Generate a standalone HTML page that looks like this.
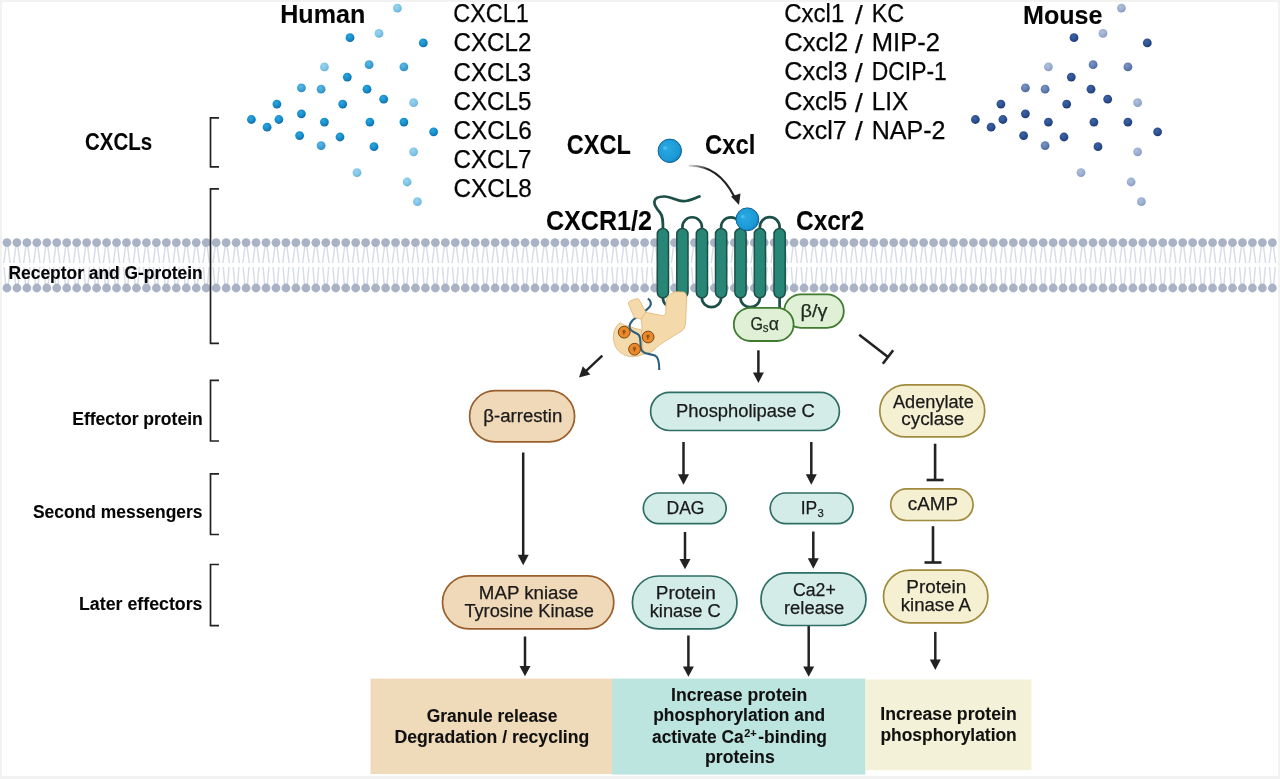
<!DOCTYPE html>
<html><head><meta charset="utf-8"><style>
html,body{margin:0;padding:0;background:#f2f2f2;overflow:hidden;}
svg{display:block;will-change:transform;}
text{font-family:"Liberation Sans", sans-serif;}
</style></head><body>
<svg width="1280" height="779" viewBox="0 0 1280 779">
<defs>
<radialGradient id="hD" cx="0.4" cy="0.35" r="0.65"><stop offset="0" stop-color="#27a8de"/><stop offset="0.7" stop-color="#1687c6"/><stop offset="1" stop-color="#0f6aa5"/></radialGradient>
<radialGradient id="hM" cx="0.4" cy="0.35" r="0.65"><stop offset="0" stop-color="#5ab8e3"/><stop offset="0.7" stop-color="#3c9fd3"/><stop offset="1" stop-color="#2f88bd"/></radialGradient>
<radialGradient id="hL" cx="0.4" cy="0.35" r="0.65"><stop offset="0" stop-color="#9ad3ef"/><stop offset="0.7" stop-color="#7dc3e6"/><stop offset="1" stop-color="#6ab0d6"/></radialGradient>
<radialGradient id="mD" cx="0.4" cy="0.35" r="0.65"><stop offset="0" stop-color="#3e63a5"/><stop offset="0.7" stop-color="#2a4c8c"/><stop offset="1" stop-color="#1e3a72"/></radialGradient>
<radialGradient id="mM" cx="0.4" cy="0.35" r="0.65"><stop offset="0" stop-color="#7a95c4"/><stop offset="0.7" stop-color="#5d79ad"/><stop offset="1" stop-color="#4c6698"/></radialGradient>
<radialGradient id="mL" cx="0.4" cy="0.35" r="0.65"><stop offset="0" stop-color="#b0c0dc"/><stop offset="0.7" stop-color="#98abcf"/><stop offset="1" stop-color="#889cc0"/></radialGradient>
<radialGradient id="lig" cx="0.4" cy="0.4" r="0.65"><stop offset="0" stop-color="#2aa8e2"/><stop offset="0.75" stop-color="#1a9ad6"/><stop offset="1" stop-color="#1380bd"/></radialGradient>
</defs>
<rect x="2" y="2" width="1276" height="774" fill="#fff"/>
<path d="M5.84,247L3.74,263M8.04,247L10.14,263M4.04,267L5.54,284M9.84,267L8.34,284M15.80,247L13.70,263M18.00,247L20.10,263M14.00,267L15.50,284M19.80,267L18.30,284M25.77,247L23.67,263M27.97,247L30.07,263M23.97,267L25.47,284M29.77,267L28.27,284M35.73,247L33.63,263M37.93,247L40.03,263M33.93,267L35.43,284M39.73,267L38.23,284M45.70,247L43.60,263M47.90,247L50.00,263M43.90,267L45.40,284M49.70,267L48.20,284M55.66,247L53.56,263M57.86,247L59.96,263M53.86,267L55.36,284M59.66,267L58.16,284M65.62,247L63.52,263M67.82,247L69.92,263M63.82,267L65.32,284M69.62,267L68.12,284M75.59,247L73.49,263M77.79,247L79.89,263M73.79,267L75.29,284M79.59,267L78.09,284M85.55,247L83.45,263M87.75,247L89.85,263M83.75,267L85.25,284M89.55,267L88.05,284M95.52,247L93.42,263M97.72,247L99.82,263M93.72,267L95.22,284M99.52,267L98.02,284M105.48,247L103.38,263M107.68,247L109.78,263M103.68,267L105.18,284M109.48,267L107.98,284M115.44,247L113.34,263M117.64,247L119.74,263M113.64,267L115.14,284M119.44,267L117.94,284M125.41,247L123.31,263M127.61,247L129.71,263M123.61,267L125.11,284M129.41,267L127.91,284M135.37,247L133.27,263M137.57,247L139.67,263M133.57,267L135.07,284M139.37,267L137.87,284M145.34,247L143.24,263M147.54,247L149.64,263M143.54,267L145.04,284M149.34,267L147.84,284M155.30,247L153.20,263M157.50,247L159.60,263M153.50,267L155.00,284M159.30,267L157.80,284M165.26,247L163.16,263M167.46,247L169.56,263M163.46,267L164.96,284M169.26,267L167.76,284M175.23,247L173.13,263M177.43,247L179.53,263M173.43,267L174.93,284M179.23,267L177.73,284M185.19,247L183.09,263M187.39,247L189.49,263M183.39,267L184.89,284M189.19,267L187.69,284M195.16,247L193.06,263M197.36,247L199.46,263M193.36,267L194.86,284M199.16,267L197.66,284M205.12,247L203.02,263M207.32,247L209.42,263M203.32,267L204.82,284M209.12,267L207.62,284M215.08,247L212.98,263M217.28,247L219.38,263M213.28,267L214.78,284M219.08,267L217.58,284M225.05,247L222.95,263M227.25,247L229.35,263M223.25,267L224.75,284M229.05,267L227.55,284M235.01,247L232.91,263M237.21,247L239.31,263M233.21,267L234.71,284M239.01,267L237.51,284M244.98,247L242.88,263M247.18,247L249.28,263M243.18,267L244.68,284M248.98,267L247.48,284M254.94,247L252.84,263M257.14,247L259.24,263M253.14,267L254.64,284M258.94,267L257.44,284M264.90,247L262.80,263M267.10,247L269.20,263M263.10,267L264.60,284M268.90,267L267.40,284M274.87,247L272.77,263M277.07,247L279.17,263M273.07,267L274.57,284M278.87,267L277.37,284M284.83,247L282.73,263M287.03,247L289.13,263M283.03,267L284.53,284M288.83,267L287.33,284M294.80,247L292.70,263M297.00,247L299.10,263M293.00,267L294.50,284M298.80,267L297.30,284M304.76,247L302.66,263M306.96,247L309.06,263M302.96,267L304.46,284M308.76,267L307.26,284M314.72,247L312.62,263M316.92,247L319.02,263M312.92,267L314.42,284M318.72,267L317.22,284M324.69,247L322.59,263M326.89,247L328.99,263M322.89,267L324.39,284M328.69,267L327.19,284M334.65,247L332.55,263M336.85,247L338.95,263M332.85,267L334.35,284M338.65,267L337.15,284M344.62,247L342.52,263M346.82,247L348.92,263M342.82,267L344.32,284M348.62,267L347.12,284M354.58,247L352.48,263M356.78,247L358.88,263M352.78,267L354.28,284M358.58,267L357.08,284M364.54,247L362.44,263M366.74,247L368.84,263M362.74,267L364.24,284M368.54,267L367.04,284M374.51,247L372.41,263M376.71,247L378.81,263M372.71,267L374.21,284M378.51,267L377.01,284M384.47,247L382.37,263M386.67,247L388.77,263M382.67,267L384.17,284M388.47,267L386.97,284M394.44,247L392.34,263M396.64,247L398.74,263M392.64,267L394.14,284M398.44,267L396.94,284M404.40,247L402.30,263M406.60,247L408.70,263M402.60,267L404.10,284M408.40,267L406.90,284M414.36,247L412.26,263M416.56,247L418.66,263M412.56,267L414.06,284M418.36,267L416.86,284M424.33,247L422.23,263M426.53,247L428.63,263M422.53,267L424.03,284M428.33,267L426.83,284M434.29,247L432.19,263M436.49,247L438.59,263M432.49,267L433.99,284M438.29,267L436.79,284M444.26,247L442.16,263M446.46,247L448.56,263M442.46,267L443.96,284M448.26,267L446.76,284M454.22,247L452.12,263M456.42,247L458.52,263M452.42,267L453.92,284M458.22,267L456.72,284M464.18,247L462.08,263M466.38,247L468.48,263M462.38,267L463.88,284M468.18,267L466.68,284M474.15,247L472.05,263M476.35,247L478.45,263M472.35,267L473.85,284M478.15,267L476.65,284M484.11,247L482.01,263M486.31,247L488.41,263M482.31,267L483.81,284M488.11,267L486.61,284M494.08,247L491.98,263M496.28,247L498.38,263M492.28,267L493.78,284M498.08,267L496.58,284M504.04,247L501.94,263M506.24,247L508.34,263M502.24,267L503.74,284M508.04,267L506.54,284M514.00,247L511.90,263M516.20,247L518.30,263M512.20,267L513.70,284M518.00,267L516.50,284M523.97,247L521.87,263M526.17,247L528.27,263M522.17,267L523.67,284M527.97,267L526.47,284M533.93,247L531.83,263M536.13,247L538.23,263M532.13,267L533.63,284M537.93,267L536.43,284M543.90,247L541.80,263M546.10,247L548.20,263M542.10,267L543.60,284M547.90,267L546.40,284M553.86,247L551.76,263M556.06,247L558.16,263M552.06,267L553.56,284M557.86,267L556.36,284M563.82,247L561.72,263M566.02,247L568.12,263M562.02,267L563.52,284M567.82,267L566.32,284M573.79,247L571.69,263M575.99,247L578.09,263M571.99,267L573.49,284M577.79,267L576.29,284M583.75,247L581.65,263M585.95,247L588.05,263M581.95,267L583.45,284M587.75,267L586.25,284M593.72,247L591.62,263M595.92,247L598.02,263M591.92,267L593.42,284M597.72,267L596.22,284M603.68,247L601.58,263M605.88,247L607.98,263M601.88,267L603.38,284M607.68,267L606.18,284M613.64,247L611.54,263M615.84,247L617.94,263M611.84,267L613.34,284M617.64,267L616.14,284M623.61,247L621.51,263M625.81,247L627.91,263M621.81,267L623.31,284M627.61,267L626.11,284M633.57,247L631.47,263M635.77,247L637.87,263M631.77,267L633.27,284M637.57,267L636.07,284M643.54,247L641.44,263M645.74,247L647.84,263M641.74,267L643.24,284M647.54,267L646.04,284M653.50,247L651.40,263M655.70,247L657.80,263M651.70,267L653.20,284M657.50,267L656.00,284M663.46,247L661.36,263M665.66,247L667.76,263M661.66,267L663.16,284M667.46,267L665.96,284M673.43,247L671.33,263M675.63,247L677.73,263M671.63,267L673.13,284M677.43,267L675.93,284M683.39,247L681.29,263M685.59,247L687.69,263M681.59,267L683.09,284M687.39,267L685.89,284M693.36,247L691.26,263M695.56,247L697.66,263M691.56,267L693.06,284M697.36,267L695.86,284M703.32,247L701.22,263M705.52,247L707.62,263M701.52,267L703.02,284M707.32,267L705.82,284M713.28,247L711.18,263M715.48,247L717.58,263M711.48,267L712.98,284M717.28,267L715.78,284M723.25,247L721.15,263M725.45,247L727.55,263M721.45,267L722.95,284M727.25,267L725.75,284M733.21,247L731.11,263M735.41,247L737.51,263M731.41,267L732.91,284M737.21,267L735.71,284M743.18,247L741.08,263M745.38,247L747.48,263M741.38,267L742.88,284M747.18,267L745.68,284M753.14,247L751.04,263M755.34,247L757.44,263M751.34,267L752.84,284M757.14,267L755.64,284M763.10,247L761.00,263M765.30,247L767.40,263M761.30,267L762.80,284M767.10,267L765.60,284M773.07,247L770.97,263M775.27,247L777.37,263M771.27,267L772.77,284M777.07,267L775.57,284M783.03,247L780.93,263M785.23,247L787.33,263M781.23,267L782.73,284M787.03,267L785.53,284M793.00,247L790.90,263M795.20,247L797.30,263M791.20,267L792.70,284M797.00,267L795.50,284M802.96,247L800.86,263M805.16,247L807.26,263M801.16,267L802.66,284M806.96,267L805.46,284M812.92,247L810.82,263M815.12,247L817.22,263M811.12,267L812.62,284M816.92,267L815.42,284M822.89,247L820.79,263M825.09,247L827.19,263M821.09,267L822.59,284M826.89,267L825.39,284M832.85,247L830.75,263M835.05,247L837.15,263M831.05,267L832.55,284M836.85,267L835.35,284M842.82,247L840.72,263M845.02,247L847.12,263M841.02,267L842.52,284M846.82,267L845.32,284M852.78,247L850.68,263M854.98,247L857.08,263M850.98,267L852.48,284M856.78,267L855.28,284M862.74,247L860.64,263M864.94,247L867.04,263M860.94,267L862.44,284M866.74,267L865.24,284M872.71,247L870.61,263M874.91,247L877.01,263M870.91,267L872.41,284M876.71,267L875.21,284M882.67,247L880.57,263M884.87,247L886.97,263M880.87,267L882.37,284M886.67,267L885.17,284M892.64,247L890.54,263M894.84,247L896.94,263M890.84,267L892.34,284M896.64,267L895.14,284M902.60,247L900.50,263M904.80,247L906.90,263M900.80,267L902.30,284M906.60,267L905.10,284M912.56,247L910.46,263M914.76,247L916.86,263M910.76,267L912.26,284M916.56,267L915.06,284M922.53,247L920.43,263M924.73,247L926.83,263M920.73,267L922.23,284M926.53,267L925.03,284M932.49,247L930.39,263M934.69,247L936.79,263M930.69,267L932.19,284M936.49,267L934.99,284M942.46,247L940.36,263M944.66,247L946.76,263M940.66,267L942.16,284M946.46,267L944.96,284M952.42,247L950.32,263M954.62,247L956.72,263M950.62,267L952.12,284M956.42,267L954.92,284M962.38,247L960.28,263M964.58,247L966.68,263M960.58,267L962.08,284M966.38,267L964.88,284M972.35,247L970.25,263M974.55,247L976.65,263M970.55,267L972.05,284M976.35,267L974.85,284M982.31,247L980.21,263M984.51,247L986.61,263M980.51,267L982.01,284M986.31,267L984.81,284M992.28,247L990.18,263M994.48,247L996.58,263M990.48,267L991.98,284M996.28,267L994.78,284M1002.24,247L1000.14,263M1004.44,247L1006.54,263M1000.44,267L1001.94,284M1006.24,267L1004.74,284M1012.20,247L1010.10,263M1014.40,247L1016.50,263M1010.40,267L1011.90,284M1016.20,267L1014.70,284M1022.17,247L1020.07,263M1024.37,247L1026.47,263M1020.37,267L1021.87,284M1026.17,267L1024.67,284M1032.13,247L1030.03,263M1034.33,247L1036.43,263M1030.33,267L1031.83,284M1036.13,267L1034.63,284M1042.10,247L1040.00,263M1044.30,247L1046.40,263M1040.30,267L1041.80,284M1046.10,267L1044.60,284M1052.06,247L1049.96,263M1054.26,247L1056.36,263M1050.26,267L1051.76,284M1056.06,267L1054.56,284M1062.02,247L1059.92,263M1064.22,247L1066.32,263M1060.22,267L1061.72,284M1066.02,267L1064.52,284M1071.99,247L1069.89,263M1074.19,247L1076.29,263M1070.19,267L1071.69,284M1075.99,267L1074.49,284M1081.95,247L1079.85,263M1084.15,247L1086.25,263M1080.15,267L1081.65,284M1085.95,267L1084.45,284M1091.92,247L1089.82,263M1094.12,247L1096.22,263M1090.12,267L1091.62,284M1095.92,267L1094.42,284M1101.88,247L1099.78,263M1104.08,247L1106.18,263M1100.08,267L1101.58,284M1105.88,267L1104.38,284M1111.84,247L1109.74,263M1114.04,247L1116.14,263M1110.04,267L1111.54,284M1115.84,267L1114.34,284M1121.81,247L1119.71,263M1124.01,247L1126.11,263M1120.01,267L1121.51,284M1125.81,267L1124.31,284M1131.77,247L1129.67,263M1133.97,247L1136.07,263M1129.97,267L1131.47,284M1135.77,267L1134.27,284M1141.74,247L1139.64,263M1143.94,247L1146.04,263M1139.94,267L1141.44,284M1145.74,267L1144.24,284M1151.70,247L1149.60,263M1153.90,247L1156.00,263M1149.90,267L1151.40,284M1155.70,267L1154.20,284M1161.66,247L1159.56,263M1163.86,247L1165.96,263M1159.86,267L1161.36,284M1165.66,267L1164.16,284M1171.63,247L1169.53,263M1173.83,247L1175.93,263M1169.83,267L1171.33,284M1175.63,267L1174.13,284M1181.59,247L1179.49,263M1183.79,247L1185.89,263M1179.79,267L1181.29,284M1185.59,267L1184.09,284M1191.56,247L1189.46,263M1193.76,247L1195.86,263M1189.76,267L1191.26,284M1195.56,267L1194.06,284M1201.52,247L1199.42,263M1203.72,247L1205.82,263M1199.72,267L1201.22,284M1205.52,267L1204.02,284M1211.48,247L1209.38,263M1213.68,247L1215.78,263M1209.68,267L1211.18,284M1215.48,267L1213.98,284M1221.45,247L1219.35,263M1223.65,247L1225.75,263M1219.65,267L1221.15,284M1225.45,267L1223.95,284M1231.41,247L1229.31,263M1233.61,247L1235.71,263M1229.61,267L1231.11,284M1235.41,267L1233.91,284M1241.38,247L1239.28,263M1243.58,247L1245.68,263M1239.58,267L1241.08,284M1245.38,267L1243.88,284M1251.34,247L1249.24,263M1253.54,247L1255.64,263M1249.54,267L1251.04,284M1255.34,267L1253.84,284M1261.30,247L1259.20,263M1263.50,247L1265.60,263M1259.50,267L1261.00,284M1265.30,267L1263.80,284M1271.27,247L1269.17,263M1273.47,247L1275.57,263M1269.47,267L1270.97,284M1275.27,267L1273.77,284" stroke="#d8dce8" stroke-width="1.45" fill="none"/><circle cx="6.94" cy="242.6" r="4.4" fill="#aab2c6"/><circle cx="6.94" cy="288" r="4.4" fill="#aab2c6"/><circle cx="16.90" cy="242.6" r="4.4" fill="#aab2c6"/><circle cx="16.90" cy="288" r="4.4" fill="#aab2c6"/><circle cx="26.87" cy="242.6" r="4.4" fill="#aab2c6"/><circle cx="26.87" cy="288" r="4.4" fill="#aab2c6"/><circle cx="36.83" cy="242.6" r="4.4" fill="#aab2c6"/><circle cx="36.83" cy="288" r="4.4" fill="#aab2c6"/><circle cx="46.80" cy="242.6" r="4.4" fill="#aab2c6"/><circle cx="46.80" cy="288" r="4.4" fill="#aab2c6"/><circle cx="56.76" cy="242.6" r="4.4" fill="#aab2c6"/><circle cx="56.76" cy="288" r="4.4" fill="#aab2c6"/><circle cx="66.72" cy="242.6" r="4.4" fill="#aab2c6"/><circle cx="66.72" cy="288" r="4.4" fill="#aab2c6"/><circle cx="76.69" cy="242.6" r="4.4" fill="#aab2c6"/><circle cx="76.69" cy="288" r="4.4" fill="#aab2c6"/><circle cx="86.65" cy="242.6" r="4.4" fill="#aab2c6"/><circle cx="86.65" cy="288" r="4.4" fill="#aab2c6"/><circle cx="96.62" cy="242.6" r="4.4" fill="#aab2c6"/><circle cx="96.62" cy="288" r="4.4" fill="#aab2c6"/><circle cx="106.58" cy="242.6" r="4.4" fill="#aab2c6"/><circle cx="106.58" cy="288" r="4.4" fill="#aab2c6"/><circle cx="116.54" cy="242.6" r="4.4" fill="#aab2c6"/><circle cx="116.54" cy="288" r="4.4" fill="#aab2c6"/><circle cx="126.51" cy="242.6" r="4.4" fill="#aab2c6"/><circle cx="126.51" cy="288" r="4.4" fill="#aab2c6"/><circle cx="136.47" cy="242.6" r="4.4" fill="#aab2c6"/><circle cx="136.47" cy="288" r="4.4" fill="#aab2c6"/><circle cx="146.44" cy="242.6" r="4.4" fill="#aab2c6"/><circle cx="146.44" cy="288" r="4.4" fill="#aab2c6"/><circle cx="156.40" cy="242.6" r="4.4" fill="#aab2c6"/><circle cx="156.40" cy="288" r="4.4" fill="#aab2c6"/><circle cx="166.36" cy="242.6" r="4.4" fill="#aab2c6"/><circle cx="166.36" cy="288" r="4.4" fill="#aab2c6"/><circle cx="176.33" cy="242.6" r="4.4" fill="#aab2c6"/><circle cx="176.33" cy="288" r="4.4" fill="#aab2c6"/><circle cx="186.29" cy="242.6" r="4.4" fill="#aab2c6"/><circle cx="186.29" cy="288" r="4.4" fill="#aab2c6"/><circle cx="196.26" cy="242.6" r="4.4" fill="#aab2c6"/><circle cx="196.26" cy="288" r="4.4" fill="#aab2c6"/><circle cx="206.22" cy="242.6" r="4.4" fill="#aab2c6"/><circle cx="206.22" cy="288" r="4.4" fill="#aab2c6"/><circle cx="216.18" cy="242.6" r="4.4" fill="#aab2c6"/><circle cx="216.18" cy="288" r="4.4" fill="#aab2c6"/><circle cx="226.15" cy="242.6" r="4.4" fill="#aab2c6"/><circle cx="226.15" cy="288" r="4.4" fill="#aab2c6"/><circle cx="236.11" cy="242.6" r="4.4" fill="#aab2c6"/><circle cx="236.11" cy="288" r="4.4" fill="#aab2c6"/><circle cx="246.08" cy="242.6" r="4.4" fill="#aab2c6"/><circle cx="246.08" cy="288" r="4.4" fill="#aab2c6"/><circle cx="256.04" cy="242.6" r="4.4" fill="#aab2c6"/><circle cx="256.04" cy="288" r="4.4" fill="#aab2c6"/><circle cx="266.00" cy="242.6" r="4.4" fill="#aab2c6"/><circle cx="266.00" cy="288" r="4.4" fill="#aab2c6"/><circle cx="275.97" cy="242.6" r="4.4" fill="#aab2c6"/><circle cx="275.97" cy="288" r="4.4" fill="#aab2c6"/><circle cx="285.93" cy="242.6" r="4.4" fill="#aab2c6"/><circle cx="285.93" cy="288" r="4.4" fill="#aab2c6"/><circle cx="295.90" cy="242.6" r="4.4" fill="#aab2c6"/><circle cx="295.90" cy="288" r="4.4" fill="#aab2c6"/><circle cx="305.86" cy="242.6" r="4.4" fill="#aab2c6"/><circle cx="305.86" cy="288" r="4.4" fill="#aab2c6"/><circle cx="315.82" cy="242.6" r="4.4" fill="#aab2c6"/><circle cx="315.82" cy="288" r="4.4" fill="#aab2c6"/><circle cx="325.79" cy="242.6" r="4.4" fill="#aab2c6"/><circle cx="325.79" cy="288" r="4.4" fill="#aab2c6"/><circle cx="335.75" cy="242.6" r="4.4" fill="#aab2c6"/><circle cx="335.75" cy="288" r="4.4" fill="#aab2c6"/><circle cx="345.72" cy="242.6" r="4.4" fill="#aab2c6"/><circle cx="345.72" cy="288" r="4.4" fill="#aab2c6"/><circle cx="355.68" cy="242.6" r="4.4" fill="#aab2c6"/><circle cx="355.68" cy="288" r="4.4" fill="#aab2c6"/><circle cx="365.64" cy="242.6" r="4.4" fill="#aab2c6"/><circle cx="365.64" cy="288" r="4.4" fill="#aab2c6"/><circle cx="375.61" cy="242.6" r="4.4" fill="#aab2c6"/><circle cx="375.61" cy="288" r="4.4" fill="#aab2c6"/><circle cx="385.57" cy="242.6" r="4.4" fill="#aab2c6"/><circle cx="385.57" cy="288" r="4.4" fill="#aab2c6"/><circle cx="395.54" cy="242.6" r="4.4" fill="#aab2c6"/><circle cx="395.54" cy="288" r="4.4" fill="#aab2c6"/><circle cx="405.50" cy="242.6" r="4.4" fill="#aab2c6"/><circle cx="405.50" cy="288" r="4.4" fill="#aab2c6"/><circle cx="415.46" cy="242.6" r="4.4" fill="#aab2c6"/><circle cx="415.46" cy="288" r="4.4" fill="#aab2c6"/><circle cx="425.43" cy="242.6" r="4.4" fill="#aab2c6"/><circle cx="425.43" cy="288" r="4.4" fill="#aab2c6"/><circle cx="435.39" cy="242.6" r="4.4" fill="#aab2c6"/><circle cx="435.39" cy="288" r="4.4" fill="#aab2c6"/><circle cx="445.36" cy="242.6" r="4.4" fill="#aab2c6"/><circle cx="445.36" cy="288" r="4.4" fill="#aab2c6"/><circle cx="455.32" cy="242.6" r="4.4" fill="#aab2c6"/><circle cx="455.32" cy="288" r="4.4" fill="#aab2c6"/><circle cx="465.28" cy="242.6" r="4.4" fill="#aab2c6"/><circle cx="465.28" cy="288" r="4.4" fill="#aab2c6"/><circle cx="475.25" cy="242.6" r="4.4" fill="#aab2c6"/><circle cx="475.25" cy="288" r="4.4" fill="#aab2c6"/><circle cx="485.21" cy="242.6" r="4.4" fill="#aab2c6"/><circle cx="485.21" cy="288" r="4.4" fill="#aab2c6"/><circle cx="495.18" cy="242.6" r="4.4" fill="#aab2c6"/><circle cx="495.18" cy="288" r="4.4" fill="#aab2c6"/><circle cx="505.14" cy="242.6" r="4.4" fill="#aab2c6"/><circle cx="505.14" cy="288" r="4.4" fill="#aab2c6"/><circle cx="515.10" cy="242.6" r="4.4" fill="#aab2c6"/><circle cx="515.10" cy="288" r="4.4" fill="#aab2c6"/><circle cx="525.07" cy="242.6" r="4.4" fill="#aab2c6"/><circle cx="525.07" cy="288" r="4.4" fill="#aab2c6"/><circle cx="535.03" cy="242.6" r="4.4" fill="#aab2c6"/><circle cx="535.03" cy="288" r="4.4" fill="#aab2c6"/><circle cx="545.00" cy="242.6" r="4.4" fill="#aab2c6"/><circle cx="545.00" cy="288" r="4.4" fill="#aab2c6"/><circle cx="554.96" cy="242.6" r="4.4" fill="#aab2c6"/><circle cx="554.96" cy="288" r="4.4" fill="#aab2c6"/><circle cx="564.92" cy="242.6" r="4.4" fill="#aab2c6"/><circle cx="564.92" cy="288" r="4.4" fill="#aab2c6"/><circle cx="574.89" cy="242.6" r="4.4" fill="#aab2c6"/><circle cx="574.89" cy="288" r="4.4" fill="#aab2c6"/><circle cx="584.85" cy="242.6" r="4.4" fill="#aab2c6"/><circle cx="584.85" cy="288" r="4.4" fill="#aab2c6"/><circle cx="594.82" cy="242.6" r="4.4" fill="#aab2c6"/><circle cx="594.82" cy="288" r="4.4" fill="#aab2c6"/><circle cx="604.78" cy="242.6" r="4.4" fill="#aab2c6"/><circle cx="604.78" cy="288" r="4.4" fill="#aab2c6"/><circle cx="614.74" cy="242.6" r="4.4" fill="#aab2c6"/><circle cx="614.74" cy="288" r="4.4" fill="#aab2c6"/><circle cx="624.71" cy="242.6" r="4.4" fill="#aab2c6"/><circle cx="624.71" cy="288" r="4.4" fill="#aab2c6"/><circle cx="634.67" cy="242.6" r="4.4" fill="#aab2c6"/><circle cx="634.67" cy="288" r="4.4" fill="#aab2c6"/><circle cx="644.64" cy="242.6" r="4.4" fill="#aab2c6"/><circle cx="644.64" cy="288" r="4.4" fill="#aab2c6"/><circle cx="654.60" cy="242.6" r="4.4" fill="#aab2c6"/><circle cx="654.60" cy="288" r="4.4" fill="#aab2c6"/><circle cx="664.56" cy="242.6" r="4.4" fill="#aab2c6"/><circle cx="664.56" cy="288" r="4.4" fill="#aab2c6"/><circle cx="674.53" cy="242.6" r="4.4" fill="#aab2c6"/><circle cx="674.53" cy="288" r="4.4" fill="#aab2c6"/><circle cx="684.49" cy="242.6" r="4.4" fill="#aab2c6"/><circle cx="684.49" cy="288" r="4.4" fill="#aab2c6"/><circle cx="694.46" cy="242.6" r="4.4" fill="#aab2c6"/><circle cx="694.46" cy="288" r="4.4" fill="#aab2c6"/><circle cx="704.42" cy="242.6" r="4.4" fill="#aab2c6"/><circle cx="704.42" cy="288" r="4.4" fill="#aab2c6"/><circle cx="714.38" cy="242.6" r="4.4" fill="#aab2c6"/><circle cx="714.38" cy="288" r="4.4" fill="#aab2c6"/><circle cx="724.35" cy="242.6" r="4.4" fill="#aab2c6"/><circle cx="724.35" cy="288" r="4.4" fill="#aab2c6"/><circle cx="734.31" cy="242.6" r="4.4" fill="#aab2c6"/><circle cx="734.31" cy="288" r="4.4" fill="#aab2c6"/><circle cx="744.28" cy="242.6" r="4.4" fill="#aab2c6"/><circle cx="744.28" cy="288" r="4.4" fill="#aab2c6"/><circle cx="754.24" cy="242.6" r="4.4" fill="#aab2c6"/><circle cx="754.24" cy="288" r="4.4" fill="#aab2c6"/><circle cx="764.20" cy="242.6" r="4.4" fill="#aab2c6"/><circle cx="764.20" cy="288" r="4.4" fill="#aab2c6"/><circle cx="774.17" cy="242.6" r="4.4" fill="#aab2c6"/><circle cx="774.17" cy="288" r="4.4" fill="#aab2c6"/><circle cx="784.13" cy="242.6" r="4.4" fill="#aab2c6"/><circle cx="784.13" cy="288" r="4.4" fill="#aab2c6"/><circle cx="794.10" cy="242.6" r="4.4" fill="#aab2c6"/><circle cx="794.10" cy="288" r="4.4" fill="#aab2c6"/><circle cx="804.06" cy="242.6" r="4.4" fill="#aab2c6"/><circle cx="804.06" cy="288" r="4.4" fill="#aab2c6"/><circle cx="814.02" cy="242.6" r="4.4" fill="#aab2c6"/><circle cx="814.02" cy="288" r="4.4" fill="#aab2c6"/><circle cx="823.99" cy="242.6" r="4.4" fill="#aab2c6"/><circle cx="823.99" cy="288" r="4.4" fill="#aab2c6"/><circle cx="833.95" cy="242.6" r="4.4" fill="#aab2c6"/><circle cx="833.95" cy="288" r="4.4" fill="#aab2c6"/><circle cx="843.92" cy="242.6" r="4.4" fill="#aab2c6"/><circle cx="843.92" cy="288" r="4.4" fill="#aab2c6"/><circle cx="853.88" cy="242.6" r="4.4" fill="#aab2c6"/><circle cx="853.88" cy="288" r="4.4" fill="#aab2c6"/><circle cx="863.84" cy="242.6" r="4.4" fill="#aab2c6"/><circle cx="863.84" cy="288" r="4.4" fill="#aab2c6"/><circle cx="873.81" cy="242.6" r="4.4" fill="#aab2c6"/><circle cx="873.81" cy="288" r="4.4" fill="#aab2c6"/><circle cx="883.77" cy="242.6" r="4.4" fill="#aab2c6"/><circle cx="883.77" cy="288" r="4.4" fill="#aab2c6"/><circle cx="893.74" cy="242.6" r="4.4" fill="#aab2c6"/><circle cx="893.74" cy="288" r="4.4" fill="#aab2c6"/><circle cx="903.70" cy="242.6" r="4.4" fill="#aab2c6"/><circle cx="903.70" cy="288" r="4.4" fill="#aab2c6"/><circle cx="913.66" cy="242.6" r="4.4" fill="#aab2c6"/><circle cx="913.66" cy="288" r="4.4" fill="#aab2c6"/><circle cx="923.63" cy="242.6" r="4.4" fill="#aab2c6"/><circle cx="923.63" cy="288" r="4.4" fill="#aab2c6"/><circle cx="933.59" cy="242.6" r="4.4" fill="#aab2c6"/><circle cx="933.59" cy="288" r="4.4" fill="#aab2c6"/><circle cx="943.56" cy="242.6" r="4.4" fill="#aab2c6"/><circle cx="943.56" cy="288" r="4.4" fill="#aab2c6"/><circle cx="953.52" cy="242.6" r="4.4" fill="#aab2c6"/><circle cx="953.52" cy="288" r="4.4" fill="#aab2c6"/><circle cx="963.48" cy="242.6" r="4.4" fill="#aab2c6"/><circle cx="963.48" cy="288" r="4.4" fill="#aab2c6"/><circle cx="973.45" cy="242.6" r="4.4" fill="#aab2c6"/><circle cx="973.45" cy="288" r="4.4" fill="#aab2c6"/><circle cx="983.41" cy="242.6" r="4.4" fill="#aab2c6"/><circle cx="983.41" cy="288" r="4.4" fill="#aab2c6"/><circle cx="993.38" cy="242.6" r="4.4" fill="#aab2c6"/><circle cx="993.38" cy="288" r="4.4" fill="#aab2c6"/><circle cx="1003.34" cy="242.6" r="4.4" fill="#aab2c6"/><circle cx="1003.34" cy="288" r="4.4" fill="#aab2c6"/><circle cx="1013.30" cy="242.6" r="4.4" fill="#aab2c6"/><circle cx="1013.30" cy="288" r="4.4" fill="#aab2c6"/><circle cx="1023.27" cy="242.6" r="4.4" fill="#aab2c6"/><circle cx="1023.27" cy="288" r="4.4" fill="#aab2c6"/><circle cx="1033.23" cy="242.6" r="4.4" fill="#aab2c6"/><circle cx="1033.23" cy="288" r="4.4" fill="#aab2c6"/><circle cx="1043.20" cy="242.6" r="4.4" fill="#aab2c6"/><circle cx="1043.20" cy="288" r="4.4" fill="#aab2c6"/><circle cx="1053.16" cy="242.6" r="4.4" fill="#aab2c6"/><circle cx="1053.16" cy="288" r="4.4" fill="#aab2c6"/><circle cx="1063.12" cy="242.6" r="4.4" fill="#aab2c6"/><circle cx="1063.12" cy="288" r="4.4" fill="#aab2c6"/><circle cx="1073.09" cy="242.6" r="4.4" fill="#aab2c6"/><circle cx="1073.09" cy="288" r="4.4" fill="#aab2c6"/><circle cx="1083.05" cy="242.6" r="4.4" fill="#aab2c6"/><circle cx="1083.05" cy="288" r="4.4" fill="#aab2c6"/><circle cx="1093.02" cy="242.6" r="4.4" fill="#aab2c6"/><circle cx="1093.02" cy="288" r="4.4" fill="#aab2c6"/><circle cx="1102.98" cy="242.6" r="4.4" fill="#aab2c6"/><circle cx="1102.98" cy="288" r="4.4" fill="#aab2c6"/><circle cx="1112.94" cy="242.6" r="4.4" fill="#aab2c6"/><circle cx="1112.94" cy="288" r="4.4" fill="#aab2c6"/><circle cx="1122.91" cy="242.6" r="4.4" fill="#aab2c6"/><circle cx="1122.91" cy="288" r="4.4" fill="#aab2c6"/><circle cx="1132.87" cy="242.6" r="4.4" fill="#aab2c6"/><circle cx="1132.87" cy="288" r="4.4" fill="#aab2c6"/><circle cx="1142.84" cy="242.6" r="4.4" fill="#aab2c6"/><circle cx="1142.84" cy="288" r="4.4" fill="#aab2c6"/><circle cx="1152.80" cy="242.6" r="4.4" fill="#aab2c6"/><circle cx="1152.80" cy="288" r="4.4" fill="#aab2c6"/><circle cx="1162.76" cy="242.6" r="4.4" fill="#aab2c6"/><circle cx="1162.76" cy="288" r="4.4" fill="#aab2c6"/><circle cx="1172.73" cy="242.6" r="4.4" fill="#aab2c6"/><circle cx="1172.73" cy="288" r="4.4" fill="#aab2c6"/><circle cx="1182.69" cy="242.6" r="4.4" fill="#aab2c6"/><circle cx="1182.69" cy="288" r="4.4" fill="#aab2c6"/><circle cx="1192.66" cy="242.6" r="4.4" fill="#aab2c6"/><circle cx="1192.66" cy="288" r="4.4" fill="#aab2c6"/><circle cx="1202.62" cy="242.6" r="4.4" fill="#aab2c6"/><circle cx="1202.62" cy="288" r="4.4" fill="#aab2c6"/><circle cx="1212.58" cy="242.6" r="4.4" fill="#aab2c6"/><circle cx="1212.58" cy="288" r="4.4" fill="#aab2c6"/><circle cx="1222.55" cy="242.6" r="4.4" fill="#aab2c6"/><circle cx="1222.55" cy="288" r="4.4" fill="#aab2c6"/><circle cx="1232.51" cy="242.6" r="4.4" fill="#aab2c6"/><circle cx="1232.51" cy="288" r="4.4" fill="#aab2c6"/><circle cx="1242.48" cy="242.6" r="4.4" fill="#aab2c6"/><circle cx="1242.48" cy="288" r="4.4" fill="#aab2c6"/><circle cx="1252.44" cy="242.6" r="4.4" fill="#aab2c6"/><circle cx="1252.44" cy="288" r="4.4" fill="#aab2c6"/><circle cx="1262.40" cy="242.6" r="4.4" fill="#aab2c6"/><circle cx="1262.40" cy="288" r="4.4" fill="#aab2c6"/><circle cx="1272.37" cy="242.6" r="4.4" fill="#aab2c6"/><circle cx="1272.37" cy="288" r="4.4" fill="#aab2c6"/><circle cx="397.4" cy="8.1" r="4.4" fill="url(#hL)"/><circle cx="350.0" cy="37.7" r="4.4" fill="url(#hD)"/><circle cx="379.0" cy="33.4" r="4.4" fill="url(#hL)"/><circle cx="423.3" cy="42.9" r="4.4" fill="url(#hD)"/><circle cx="324.4" cy="66.9" r="4.4" fill="url(#hL)"/><circle cx="369.1" cy="64.7" r="4.4" fill="url(#hM)"/><circle cx="403.9" cy="66.9" r="4.4" fill="url(#hM)"/><circle cx="347.3" cy="77.1" r="4.4" fill="url(#hD)"/><circle cx="301.4" cy="87.9" r="4.4" fill="url(#hM)"/><circle cx="321.1" cy="89.2" r="4.4" fill="url(#hM)"/><circle cx="367.0" cy="89.2" r="4.4" fill="url(#hD)"/><circle cx="383.7" cy="99.2" r="4.4" fill="url(#hD)"/><circle cx="413.6" cy="102.7" r="4.4" fill="url(#hL)"/><circle cx="276.9" cy="104.1" r="4.4" fill="url(#hD)"/><circle cx="342.7" cy="104.1" r="4.4" fill="url(#hD)"/><circle cx="251.4" cy="119.5" r="4.4" fill="url(#hD)"/><circle cx="267.1" cy="127.2" r="4.4" fill="url(#hD)"/><circle cx="278.9" cy="119.5" r="4.4" fill="url(#hD)"/><circle cx="301.4" cy="113.8" r="4.4" fill="url(#hD)"/><circle cx="324.4" cy="122.1" r="4.4" fill="url(#hD)"/><circle cx="369.9" cy="122.1" r="4.4" fill="url(#hD)"/><circle cx="403.9" cy="122.1" r="4.4" fill="url(#hD)"/><circle cx="433.6" cy="131.8" r="4.4" fill="url(#hD)"/><circle cx="299.6" cy="135.6" r="4.4" fill="url(#hD)"/><circle cx="340.0" cy="137.0" r="4.4" fill="url(#hD)"/><circle cx="321.1" cy="145.6" r="4.4" fill="url(#hM)"/><circle cx="374.0" cy="146.7" r="4.4" fill="url(#hD)"/><circle cx="413.6" cy="151.8" r="4.4" fill="url(#hL)"/><circle cx="357.0" cy="172.6" r="4.4" fill="url(#hL)"/><circle cx="407.1" cy="182.0" r="4.4" fill="url(#hL)"/><circle cx="417.4" cy="201.7" r="4.4" fill="url(#hL)"/><circle cx="1121.4" cy="8.1" r="4.4" fill="url(#mL)"/><circle cx="1074.0" cy="37.7" r="4.4" fill="url(#mD)"/><circle cx="1103.0" cy="33.4" r="4.4" fill="url(#mL)"/><circle cx="1147.3" cy="42.9" r="4.4" fill="url(#mD)"/><circle cx="1048.4" cy="66.9" r="4.4" fill="url(#mL)"/><circle cx="1093.1" cy="64.7" r="4.4" fill="url(#mM)"/><circle cx="1127.9" cy="66.9" r="4.4" fill="url(#mM)"/><circle cx="1071.3" cy="77.1" r="4.4" fill="url(#mD)"/><circle cx="1025.4" cy="87.9" r="4.4" fill="url(#mM)"/><circle cx="1045.1" cy="89.2" r="4.4" fill="url(#mM)"/><circle cx="1091.0" cy="89.2" r="4.4" fill="url(#mD)"/><circle cx="1107.7" cy="99.2" r="4.4" fill="url(#mD)"/><circle cx="1137.6" cy="102.7" r="4.4" fill="url(#mL)"/><circle cx="1000.9" cy="104.1" r="4.4" fill="url(#mD)"/><circle cx="1066.7" cy="104.1" r="4.4" fill="url(#mD)"/><circle cx="975.4" cy="119.5" r="4.4" fill="url(#mD)"/><circle cx="991.1" cy="127.2" r="4.4" fill="url(#mD)"/><circle cx="1002.9" cy="119.5" r="4.4" fill="url(#mD)"/><circle cx="1025.4" cy="113.8" r="4.4" fill="url(#mD)"/><circle cx="1048.4" cy="122.1" r="4.4" fill="url(#mD)"/><circle cx="1093.9" cy="122.1" r="4.4" fill="url(#mD)"/><circle cx="1127.9" cy="122.1" r="4.4" fill="url(#mD)"/><circle cx="1157.6" cy="131.8" r="4.4" fill="url(#mD)"/><circle cx="1023.6" cy="135.6" r="4.4" fill="url(#mD)"/><circle cx="1064.0" cy="137.0" r="4.4" fill="url(#mD)"/><circle cx="1045.1" cy="145.6" r="4.4" fill="url(#mM)"/><circle cx="1098.0" cy="146.7" r="4.4" fill="url(#mD)"/><circle cx="1137.6" cy="151.8" r="4.4" fill="url(#mL)"/><circle cx="1081.0" cy="172.6" r="4.4" fill="url(#mL)"/><circle cx="1131.1" cy="182.0" r="4.4" fill="url(#mL)"/><circle cx="1141.4" cy="201.7" r="4.4" fill="url(#mL)"/><path d="M219,117.9H210.5V166.9H219M219,188.8H210.5V343.3H219M219,380.3H210.5V441H219M219,473.8H210.5V534.5H219M219,564.5H210.5V625.6H219" stroke="#222" stroke-width="1.7" fill="none"/><text x="85.00" y="150.3" font-size="23" font-weight="bold" textLength="67.00" lengthAdjust="spacingAndGlyphs" fill="#050505" stroke="#050505" stroke-width="0.1">CXCLs</text><text x="8.50" y="279" font-size="18" font-weight="bold" textLength="194.25" lengthAdjust="spacingAndGlyphs" fill="#050505" stroke="#050505" stroke-width="0.1">Receptor and G-protein</text><text x="72.25" y="424.7" font-size="18" font-weight="bold" textLength="130.50" lengthAdjust="spacingAndGlyphs" fill="#050505" stroke="#050505" stroke-width="0.1">Effector protein</text><text x="33.00" y="517.8" font-size="18" font-weight="bold" textLength="169.50" lengthAdjust="spacingAndGlyphs" fill="#050505" stroke="#050505" stroke-width="0.1">Second messengers</text><text x="79.00" y="609.6" font-size="18" font-weight="bold" textLength="123.50" lengthAdjust="spacingAndGlyphs" fill="#050505" stroke="#050505" stroke-width="0.1">Later effectors</text><text x="280.25" y="23.2" font-size="26" font-weight="bold" textLength="85.00" lengthAdjust="spacingAndGlyphs" fill="#050505" stroke="#050505" stroke-width="0.1">Human</text><text x="1023.00" y="23.5" font-size="26" font-weight="bold" textLength="79.50" lengthAdjust="spacingAndGlyphs" fill="#050505" stroke="#050505" stroke-width="0.1">Mouse</text><text x="453.25" y="22.4" font-size="25.7" font-weight="normal" textLength="75.50" lengthAdjust="spacingAndGlyphs" fill="#050505" stroke="#050505" stroke-width="0.25">CXCL1</text><text x="453.50" y="51.4" font-size="25.7" font-weight="normal" textLength="78.00" lengthAdjust="spacingAndGlyphs" fill="#050505" stroke="#050505" stroke-width="0.25">CXCL2</text><text x="453.50" y="80.5" font-size="25.7" font-weight="normal" textLength="77.75" lengthAdjust="spacingAndGlyphs" fill="#050505" stroke="#050505" stroke-width="0.25">CXCL3</text><text x="453.50" y="109.9" font-size="25.7" font-weight="normal" textLength="78.00" lengthAdjust="spacingAndGlyphs" fill="#050505" stroke="#050505" stroke-width="0.25">CXCL5</text><text x="453.50" y="139.0" font-size="25.7" font-weight="normal" textLength="78.25" lengthAdjust="spacingAndGlyphs" fill="#050505" stroke="#050505" stroke-width="0.25">CXCL6</text><text x="453.50" y="168.0" font-size="25.7" font-weight="normal" textLength="78.00" lengthAdjust="spacingAndGlyphs" fill="#050505" stroke="#050505" stroke-width="0.25">CXCL7</text><text x="453.50" y="197.4" font-size="25.7" font-weight="normal" textLength="78.25" lengthAdjust="spacingAndGlyphs" fill="#050505" stroke="#050505" stroke-width="0.25">CXCL8</text><text x="784.25" y="22.1" font-size="25.7" font-weight="normal" textLength="60.00" lengthAdjust="spacingAndGlyphs" fill="#050505" stroke="#050505" stroke-width="0.25">Cxcl1</text><text x="855.00" y="23.9" font-size="25.7" font-weight="normal" textLength="7.75" lengthAdjust="spacingAndGlyphs" fill="#050505" stroke="#050505" stroke-width="0.25">/</text><text x="871.75" y="22.1" font-size="25.7" font-weight="normal" textLength="32.50" lengthAdjust="spacingAndGlyphs" fill="#050505" stroke="#050505" stroke-width="0.25">KC</text><text x="784.25" y="51.0" font-size="25.7" font-weight="normal" textLength="64.00" lengthAdjust="spacingAndGlyphs" fill="#050505" stroke="#050505" stroke-width="0.25">Cxcl2</text><text x="855.00" y="52.8" font-size="25.7" font-weight="normal" textLength="7.75" lengthAdjust="spacingAndGlyphs" fill="#050505" stroke="#050505" stroke-width="0.25">/</text><text x="871.75" y="51.0" font-size="25.7" font-weight="normal" textLength="68.25" lengthAdjust="spacingAndGlyphs" fill="#050505" stroke="#050505" stroke-width="0.25">MIP-2</text><text x="784.25" y="79.9" font-size="25.7" font-weight="normal" textLength="63.25" lengthAdjust="spacingAndGlyphs" fill="#050505" stroke="#050505" stroke-width="0.25">Cxcl3</text><text x="855.00" y="81.7" font-size="25.7" font-weight="normal" textLength="7.75" lengthAdjust="spacingAndGlyphs" fill="#050505" stroke="#050505" stroke-width="0.25">/</text><text x="871.75" y="79.9" font-size="25.7" font-weight="normal" textLength="75.00" lengthAdjust="spacingAndGlyphs" fill="#050505" stroke="#050505" stroke-width="0.25">DCIP-1</text><text x="784.25" y="109.7" font-size="25.7" font-weight="normal" textLength="63.00" lengthAdjust="spacingAndGlyphs" fill="#050505" stroke="#050505" stroke-width="0.25">Cxcl5</text><text x="855.00" y="111.5" font-size="25.7" font-weight="normal" textLength="7.75" lengthAdjust="spacingAndGlyphs" fill="#050505" stroke="#050505" stroke-width="0.25">/</text><text x="871.75" y="109.7" font-size="25.7" font-weight="normal" textLength="36.50" lengthAdjust="spacingAndGlyphs" fill="#050505" stroke="#050505" stroke-width="0.25">LIX</text><text x="784.25" y="138.6" font-size="25.7" font-weight="normal" textLength="62.50" lengthAdjust="spacingAndGlyphs" fill="#050505" stroke="#050505" stroke-width="0.25">Cxcl7</text><text x="855.00" y="140.4" font-size="25.7" font-weight="normal" textLength="7.75" lengthAdjust="spacingAndGlyphs" fill="#050505" stroke="#050505" stroke-width="0.25">/</text><text x="871.75" y="138.6" font-size="25.7" font-weight="normal" textLength="73.75" lengthAdjust="spacingAndGlyphs" fill="#050505" stroke="#050505" stroke-width="0.25">NAP-2</text><text x="566.75" y="154.1" font-size="27" font-weight="bold" textLength="64.00" lengthAdjust="spacingAndGlyphs" fill="#050505" stroke="#050505" stroke-width="0.1">CXCL</text><text x="705.00" y="154.1" font-size="27" font-weight="bold" textLength="50.25" lengthAdjust="spacingAndGlyphs" fill="#050505" stroke="#050505" stroke-width="0.1">Cxcl</text><text x="546.00" y="230.3" font-size="27" font-weight="bold" textLength="106.00" lengthAdjust="spacingAndGlyphs" fill="#050505" stroke="#050505" stroke-width="0.1">CXCR1/2</text><text x="796.00" y="230.3" font-size="27" font-weight="bold" textLength="68.00" lengthAdjust="spacingAndGlyphs" fill="#050505" stroke="#050505" stroke-width="0.1">Cxcr2</text><path d="M663,229C663,222 663,216 660,212.5C656,208 654,205 654.4,201.6C655,197.5 659,196.3 665,196.5C672,197 677,201 683,201.2C689,201.4 694,198.5 699.4,196.5M682.4,229V227A9.75,9.75 0 0 1 701.9,227V229M721.1,229V227A9.70,9.70 0 0 1 740.5,227V229M759.9,229V227A9.85,9.85 0 0 1 779.6,227V229M662.9,297V298A9.75,9.26 0 0 0 682.4,298V297M701.9,297V298A9.60,9.12 0 0 0 721.1,298V297M740.5,297V298A9.70,9.21 0 0 0 759.9,298V297M779.6,297V312" stroke="#1c4f47" stroke-width="2.7" fill="none" stroke-linecap="round"/><rect x="657.30" y="228.5" width="11.2" height="69.3" rx="5.6" fill="#278676" stroke="#1c4f47" stroke-width="1.5"/><rect x="676.80" y="228.5" width="11.2" height="69.3" rx="5.6" fill="#278676" stroke="#1c4f47" stroke-width="1.5"/><rect x="696.30" y="228.5" width="11.2" height="69.3" rx="5.6" fill="#278676" stroke="#1c4f47" stroke-width="1.5"/><rect x="715.50" y="228.5" width="11.2" height="69.3" rx="5.6" fill="#278676" stroke="#1c4f47" stroke-width="1.5"/><rect x="734.90" y="228.5" width="11.2" height="69.3" rx="5.6" fill="#278676" stroke="#1c4f47" stroke-width="1.5"/><rect x="754.30" y="228.5" width="11.2" height="69.3" rx="5.6" fill="#278676" stroke="#1c4f47" stroke-width="1.5"/><rect x="774.00" y="228.5" width="11.2" height="69.3" rx="5.6" fill="#278676" stroke="#1c4f47" stroke-width="1.5"/><circle cx="669.8" cy="150.8" r="11.7" fill="url(#lig)" stroke="#0f5f95" stroke-width="1"/><circle cx="665.1" cy="148.0" r="2.0" fill="#4cbcec" opacity="0.9"/><circle cx="747.4" cy="219.3" r="11.4" fill="url(#lig)" stroke="#0f5f95" stroke-width="1"/><circle cx="742.8" cy="216.6" r="1.9" fill="#4cbcec" opacity="0.9"/><linearGradient id="cag" gradientUnits="userSpaceOnUse" x1="689" y1="166" x2="708" y2="169"><stop offset="0" stop-color="#222" stop-opacity="0.15"/><stop offset="1" stop-color="#222"/></linearGradient><path d="M688.8,165.8C706.5,165 723,174.5 734.5,197" stroke="url(#cag)" stroke-width="2.2" fill="none"/><path d="M731,196.5L739,205L740.5,193.5z" fill="#222"/><g fill="#f4daab" stroke="#e2b475" stroke-width="0.8" stroke-linejoin="round"><path d="M641.4,314.4C643,313 645,312.5 647,312.6L662.6,315.7C664.5,315.5 665.8,314 665.8,312L666,302C666.5,297 670,293 676,291.8L684,292C686,293 687,295 686.7,299L685.5,324C685,328 683,330.5 680,332L668,339.5C662,343 657,346.5 653,350.8C649,353 646,354.5 643.3,354L641,346C640,340 642,334 642,327C641.5,322 640.5,318 641.4,314.4Z"/><path d="M620.2,322.6L622.5,324.5C626,325.5 631,327 635,328.3L641.5,330L643.3,354C640,356 636,356.8 632,356.6C626,356.3 620.5,353.5 617.3,349.5C614,345 613,339 613.6,334C614.2,329 616.8,325.2 620.2,322.6Z"/></g><path d="M647.8,298.5C650.5,300.5 651.2,303.5 650.4,305.5C649,308.5 644,312 640,315C636,317.5 633.5,319 632,321C629.5,324 628.5,327.5 631.1,330.3C633.5,332.5 637,333 638.8,335C640.5,337 640.5,342 640.7,347C641,350 642.5,352 645,353C648,354 652.5,354.5 655.5,355.8C658.5,357.5 659.3,362 659.3,370" stroke="#2b5f7e" stroke-width="2.1" fill="none"/><path d="M628.6,304.2C628.2,302.6 629,301.4 630.5,300.7L636.5,298.8C637.7,298.4 638.8,298.9 639.3,300L645.9,312.1L641.2,319L634.3,317.6Z" fill="#f4daab" stroke="#e2b475" stroke-width="0.8" stroke-linejoin="round"/><circle cx="624.2" cy="332.2" r="5.9" fill="#e8892b" stroke="#7a4510" stroke-width="1"/><path d="M623.9000000000001,334.7V330.7M622.9000000000001,331.4a1.2,1.2 0 1 1 2.4,0a1.2,1.2 0 1 1 -2.4,0" stroke="#6a3508" stroke-width="0.7" fill="none"/><circle cx="648.1" cy="337" r="5.9" fill="#e8892b" stroke="#7a4510" stroke-width="1"/><path d="M647.8000000000001,339.5V335.5M646.8000000000001,336.2a1.2,1.2 0 1 1 2.4,0a1.2,1.2 0 1 1 -2.4,0" stroke="#6a3508" stroke-width="0.7" fill="none"/><circle cx="634.6" cy="349.2" r="5.9" fill="#e8892b" stroke="#7a4510" stroke-width="1"/><path d="M634.3000000000001,351.7V347.7M633.3000000000001,348.4a1.2,1.2 0 1 1 2.4,0a1.2,1.2 0 1 1 -2.4,0" stroke="#6a3508" stroke-width="0.7" fill="none"/><rect x="784.2" y="294.3" width="59.6" height="33.6" rx="16.8" fill="#dff0d6" stroke="#3f7a2f" stroke-width="1.8"/><rect x="733.8" y="307.8" width="59.8" height="33.2" rx="16.6" fill="#dff0d6" stroke="#3f7a2f" stroke-width="1.8"/><text x="750.50" y="329.9" font-size="18.5" font-weight="normal" textLength="12.50" lengthAdjust="spacingAndGlyphs" fill="#1e2a1e" stroke="#1e2a1e" stroke-width="0.25">G</text><text x="762.75" y="331.6" font-size="12" font-weight="normal" textLength="5.75" lengthAdjust="spacingAndGlyphs" fill="#1e2a1e" stroke="#1e2a1e" stroke-width="0.25">s</text><text x="768.75" y="329.9" font-size="18.5" font-weight="normal" textLength="10.25" lengthAdjust="spacingAndGlyphs" fill="#1e2a1e" stroke="#1e2a1e" stroke-width="0.25">α</text><text x="800.50" y="317" font-size="18.5" font-weight="normal" textLength="27.00" lengthAdjust="spacingAndGlyphs" fill="#1e2a1e" stroke="#1e2a1e" stroke-width="0.25">β/γ</text><line x1="602.3" y1="355.6" x2="585.85" y2="371.06" stroke="#222" stroke-width="2.5"/><path d="M579.00,377.50L582.81,366.37L590.34,374.38z" fill="#222"/><line x1="758.4" y1="350.3" x2="758.40" y2="373.60" stroke="#222" stroke-width="2.5"/><path d="M758.40,383.00L752.90,372.60L763.90,372.60z" fill="#222"/><line x1="859.2" y1="334.8" x2="888" y2="357" stroke="#222" stroke-width="2.6"/><line x1="882.81" y1="363.73" x2="893.19" y2="350.27" stroke="#222" stroke-width="2.6"/><line x1="683.5" y1="442" x2="683.50" y2="475.30" stroke="#222" stroke-width="2.5"/><path d="M683.50,484.70L678.00,474.30L689.00,474.30z" fill="#222"/><line x1="811.3" y1="442" x2="811.30" y2="475.30" stroke="#222" stroke-width="2.5"/><path d="M811.30,484.70L805.80,474.30L816.80,474.30z" fill="#222"/><line x1="523.2" y1="452.5" x2="523.20" y2="555.80" stroke="#222" stroke-width="2.5"/><path d="M523.20,565.20L517.70,554.80L528.70,554.80z" fill="#222"/><line x1="685" y1="532" x2="685.00" y2="559.90" stroke="#222" stroke-width="2.5"/><path d="M685.00,569.30L679.50,558.90L690.50,558.90z" fill="#222"/><line x1="813.3" y1="531.5" x2="813.30" y2="559.30" stroke="#222" stroke-width="2.5"/><path d="M813.30,568.70L807.80,558.30L818.80,558.30z" fill="#222"/><line x1="935.1" y1="443.7" x2="935.1" y2="480" stroke="#222" stroke-width="2.6"/><line x1="926.60" y1="480.00" x2="943.60" y2="480.00" stroke="#222" stroke-width="2.6"/><line x1="933" y1="526.2" x2="933" y2="562.5" stroke="#222" stroke-width="2.6"/><line x1="924.50" y1="562.50" x2="941.50" y2="562.50" stroke="#222" stroke-width="2.6"/><line x1="525" y1="636.5" x2="525.00" y2="666.90" stroke="#222" stroke-width="2.5"/><path d="M525.00,676.30L519.50,665.90L530.50,665.90z" fill="#222"/><line x1="688.4" y1="635.5" x2="688.40" y2="667.40" stroke="#222" stroke-width="2.5"/><path d="M688.40,676.80L682.90,666.40L693.90,666.40z" fill="#222"/><line x1="808.7" y1="625.3" x2="808.70" y2="667.40" stroke="#222" stroke-width="2.5"/><path d="M808.70,676.80L803.20,666.40L814.20,666.40z" fill="#222"/><line x1="935.3" y1="631.9" x2="935.30" y2="660.50" stroke="#222" stroke-width="2.5"/><path d="M935.30,669.90L929.80,659.50L940.80,659.50z" fill="#222"/><rect x="469.6" y="390.6" width="105.0" height="51.2" rx="25.6" fill="#efd9b8" stroke="#9a5f2c" stroke-width="1.7"/><text x="483.25" y="422.1" font-size="18" font-weight="normal" textLength="79.00" lengthAdjust="spacingAndGlyphs" fill="#1a1a1a" stroke="#1a1a1a" stroke-width="0.25">β-arrestin</text><rect x="650.5999999999999" y="392.40000000000003" width="188.8" height="38.1" rx="19.0" fill="#d3ece8" stroke="#2f6e64" stroke-width="1.7"/><text x="676.00" y="417" font-size="18" font-weight="normal" textLength="138.75" lengthAdjust="spacingAndGlyphs" fill="#1a1a1a" stroke="#1a1a1a" stroke-width="0.25">Phospholipase C</text><rect x="879.8" y="384.8" width="104.9" height="52.1" rx="26.0" fill="#f5f0d2" stroke="#a08a3e" stroke-width="1.7"/><text x="893.00" y="407.8" font-size="18" font-weight="normal" textLength="80.75" lengthAdjust="spacingAndGlyphs" fill="#1a1a1a" stroke="#1a1a1a" stroke-width="0.25">Adenylate</text><text x="901.25" y="424.8" font-size="18" font-weight="normal" textLength="63.00" lengthAdjust="spacingAndGlyphs" fill="#1a1a1a" stroke="#1a1a1a" stroke-width="0.25">cyclase</text><rect x="643.3" y="493.0" width="82.9" height="30.7" rx="15.4" fill="#d3ece8" stroke="#2f6e64" stroke-width="1.7"/><text x="666.50" y="514.1" font-size="18" font-weight="normal" textLength="38.00" lengthAdjust="spacingAndGlyphs" fill="#1a1a1a" stroke="#1a1a1a" stroke-width="0.25">DAG</text><rect x="770.1999999999999" y="493.0" width="82.9" height="30.7" rx="15.4" fill="#d3ece8" stroke="#2f6e64" stroke-width="1.7"/><text x="800.75" y="514.1" font-size="18" font-weight="normal" textLength="16.50" lengthAdjust="spacingAndGlyphs" fill="#1a1a1a" stroke="#1a1a1a" stroke-width="0.25">IP</text><text x="817.50" y="516.6" font-size="11.5" font-weight="normal" textLength="6.25" lengthAdjust="spacingAndGlyphs" fill="#1a1a1a" stroke="#1a1a1a" stroke-width="0.25">3</text><rect x="890.6999999999999" y="488.90000000000003" width="82.4" height="31.6" rx="15.8" fill="#f5f0d2" stroke="#a08a3e" stroke-width="1.7"/><text x="907.75" y="510.4" font-size="18" font-weight="normal" textLength="50.25" lengthAdjust="spacingAndGlyphs" fill="#1a1a1a" stroke="#1a1a1a" stroke-width="0.25">cAMP</text><rect x="442.5" y="575.9" width="171.3" height="52.9" rx="26.5" fill="#efd9b8" stroke="#9a5f2c" stroke-width="1.7"/><text x="478.85" y="598.8" font-size="18" font-weight="normal" textLength="99.40" lengthAdjust="spacingAndGlyphs" fill="#1a1a1a" stroke="#1a1a1a" stroke-width="0.25">MAP kniase</text><text x="464.40" y="617" font-size="18" font-weight="normal" textLength="129.55" lengthAdjust="spacingAndGlyphs" fill="#1a1a1a" stroke="#1a1a1a" stroke-width="0.25">Tyrosine Kinase</text><rect x="632.4" y="576.0" width="104.6" height="52.8" rx="26.4" fill="#d3ece8" stroke="#2f6e64" stroke-width="1.7"/><text x="655.75" y="598.5" font-size="18" font-weight="normal" textLength="60.00" lengthAdjust="spacingAndGlyphs" fill="#1a1a1a" stroke="#1a1a1a" stroke-width="0.25">Protein</text><text x="649.75" y="616.8" font-size="18" font-weight="normal" textLength="71.00" lengthAdjust="spacingAndGlyphs" fill="#1a1a1a" stroke="#1a1a1a" stroke-width="0.25">kinase C</text><rect x="761.0" y="572.9" width="105.0" height="52.6" rx="26.3" fill="#d3ece8" stroke="#2f6e64" stroke-width="1.7"/><text x="793.00" y="595.5" font-size="18" font-weight="normal" textLength="42.75" lengthAdjust="spacingAndGlyphs" fill="#1a1a1a" stroke="#1a1a1a" stroke-width="0.25">Ca2+</text><text x="784.00" y="613.8" font-size="18" font-weight="normal" textLength="60.25" lengthAdjust="spacingAndGlyphs" fill="#1a1a1a" stroke="#1a1a1a" stroke-width="0.25">release</text><rect x="883.5" y="570.0999999999999" width="104.4" height="52.8" rx="26.4" fill="#f5f0d2" stroke="#a08a3e" stroke-width="1.7"/><text x="906.25" y="592.9" font-size="18" font-weight="normal" textLength="60.00" lengthAdjust="spacingAndGlyphs" fill="#1a1a1a" stroke="#1a1a1a" stroke-width="0.25">Protein</text><text x="900.75" y="611.4" font-size="18" font-weight="normal" textLength="70.25" lengthAdjust="spacingAndGlyphs" fill="#1a1a1a" stroke="#1a1a1a" stroke-width="0.25">kinase A</text><rect x="370.5" y="678.6" width="241.5" height="95.4" fill="#efdab9"/><rect x="612" y="678.6" width="253.4" height="96" fill="#bde5df"/><rect x="865.4" y="679.5" width="166" height="90.7" fill="#f3f1d7"/><text x="426.75" y="721.9" font-size="18" font-weight="bold" textLength="130.75" lengthAdjust="spacingAndGlyphs" fill="#111" stroke="#111" stroke-width="0.1">Granule release</text><text x="394.50" y="742.7" font-size="18" font-weight="bold" textLength="194.75" lengthAdjust="spacingAndGlyphs" fill="#111" stroke="#111" stroke-width="0.1">Degradation / recycling</text><text x="671.00" y="701.1" font-size="18" font-weight="bold" textLength="136.25" lengthAdjust="spacingAndGlyphs" fill="#111" stroke="#111" stroke-width="0.1">Increase protein</text><text x="653.25" y="721.3" font-size="18" font-weight="bold" textLength="172.00" lengthAdjust="spacingAndGlyphs" fill="#111" stroke="#111" stroke-width="0.1">phosphorylation and</text><text x="652.00" y="743.0" font-size="18" font-weight="bold" textLength="91.75" lengthAdjust="spacingAndGlyphs" fill="#111" stroke="#111" stroke-width="0.1">activate Ca</text><text x="744.25" y="736.7" font-size="11" font-weight="bold" textLength="12.50" lengthAdjust="spacingAndGlyphs" fill="#111" stroke="#111" stroke-width="0.1">2+</text><text x="758.25" y="743.0" font-size="18" font-weight="bold" textLength="68.75" lengthAdjust="spacingAndGlyphs" fill="#111" stroke="#111" stroke-width="0.1">-binding</text><text x="705.00" y="762.8" font-size="18" font-weight="bold" textLength="69.75" lengthAdjust="spacingAndGlyphs" fill="#111" stroke="#111" stroke-width="0.1">proteins</text><text x="880.25" y="720.2" font-size="18" font-weight="bold" textLength="136.50" lengthAdjust="spacingAndGlyphs" fill="#111" stroke="#111" stroke-width="0.1">Increase protein</text><text x="880.50" y="740.5" font-size="18" font-weight="bold" textLength="136.25" lengthAdjust="spacingAndGlyphs" fill="#111" stroke="#111" stroke-width="0.1">phosphorylation</text></svg></body></html>
